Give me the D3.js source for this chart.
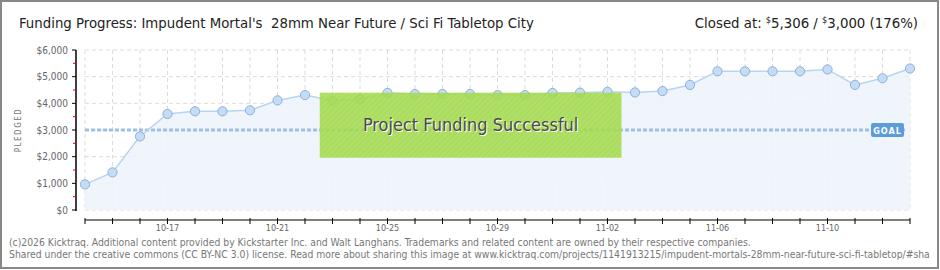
<!DOCTYPE html>
<html>
<head>
<meta charset="utf-8">
<script src="https://cdn.jsdelivr.net/npm/d3@7"></script>
<style>
  html, body { margin: 0; padding: 0; background: #fff; }
  svg { display: block; }
  text { white-space: pre; }
</style>
</head>
<body>
<svg id="chart" width="940" height="270"></svg>
<script>
// values
const dates = [
  '10-14', '10-15', '10-16', '10-17', '10-18', '10-19', '10-20', '10-21',
  '10-22', '10-23', '10-24', '10-25', '10-26', '10-27', '10-28', '10-29',
  '10-30', '10-31', '11-01', '11-02', '11-03', '11-04', '11-05', '11-06',
  '11-07', '11-08', '11-09', '11-10', '11-11', '11-12', '11-13'
];
const pledged = [
  960, 1410, 2760, 3600, 3700, 3700, 3740, 4110,
  4310, 4100, 4150, 4390, 4350, 4350, 4350, 4310,
  4310, 4390, 4400, 4430, 4410, 4460, 4690, 5200,
  5200, 5200, 5200, 5270, 4690, 4940, 5306
];
const tickLabels = ['10-17', '10-21', '10-25', '10-29', '11-02', '11-06', '11-10'];
const yTicks = [0, 1000, 2000, 3000, 4000, 5000, 6000];
const goal = 3000;

const FONT = '"DejaVu Sans Condensed", "DejaVu Sans", sans-serif';
const LINE_COLOR = '#b9d4f1';
const AREA_COLOR = '#eef4fc';
const POINT_FILL = '#c5dcf6';
const POINT_STROKE = '#8eb0d8';
const GRID_COLOR = '#dcdcdc';

const svg = d3.select('#chart');
const defs = svg.append('defs');

const hatch = defs.append('pattern')
  .attr('id', 'hatch')
  .attr('width', 4)
  .attr('height', 4)
  .attr('patternUnits', 'userSpaceOnUse')
  .attr('patternTransform', 'rotate(45)');
hatch.append('rect').attr('width', 4).attr('height', 4).attr('fill', '#a6dc50');
hatch.append('line')
  .attr('x1', 0).attr('y1', 0).attr('x2', 0).attr('y2', 4)
  .attr('stroke', '#9ad044').attr('stroke-width', 1.2);

// frame
svg.append('rect')
  .attr('x', 1).attr('y', 1)
  .attr('width', 937).attr('height', 267)
  .attr('fill', '#fff')
  .attr('stroke', '#888')
  .attr('stroke-width', 2);

const x = d3.scalePoint().domain(dates).range([85, 910]);
const y = d3.scaleLinear().domain([0, 6000]).range([210, 50]);

// grid
const grid = svg.append('g').attr('class', 'grid');
grid.selectAll('line.v')
  .data(dates)
  .join('line')
  .attr('class', 'v')
  .attr('x1', (d) => x(d)).attr('x2', (d) => x(d))
  .attr('y1', y(6000)).attr('y2', y(0))
  .attr('stroke', GRID_COLOR)
  .attr('stroke-dasharray', '4,3');
grid.selectAll('line.h')
  .data(yTicks)
  .join('line')
  .attr('class', 'h')
  .attr('x1', x(dates[0])).attr('x2', x(dates[dates.length - 1]))
  .attr('y1', (d) => y(d)).attr('y2', (d) => y(d))
  .attr('stroke', GRID_COLOR)
  .attr('stroke-dasharray', '4,3');

// area + line
const area = d3.area()
  .x((d, i) => x(dates[i]))
  .y0(y(0))
  .y1((d) => y(d));
const line = d3.line()
  .x((d, i) => x(dates[i]))
  .y((d) => y(d));

svg.append('path')
  .attr('d', area(pledged))
  .attr('fill', AREA_COLOR)
  .attr('fill-opacity', 0.9);

// goal line
svg.append('line')
  .attr('x1', x(dates[0])).attr('x2', x(dates[dates.length - 1]) - 4)
  .attr('y1', y(goal)).attr('y2', y(goal))
  .attr('stroke', '#9fbfe5')
  .attr('stroke-width', 3)
  .attr('stroke-dasharray', '4,2');

svg.append('path')
  .attr('d', line(pledged))
  .attr('fill', 'none')
  .attr('stroke', LINE_COLOR)
  .attr('stroke-width', 1.5);

svg.append('g')
  .selectAll('circle')
  .data(pledged)
  .join('circle')
  .attr('cx', (d, i) => x(dates[i]))
  .attr('cy', (d) => y(d))
  .attr('r', 4.6)
  .attr('fill', POINT_FILL)
  .attr('stroke', POINT_STROKE)
  .attr('stroke-width', 1);

// goal badge
const goalG = svg.append('g')
  .attr('transform', `translate(${x(dates[dates.length - 1]) - 39},${y(goal) - 7})`);
goalG.append('rect')
  .attr('width', 33).attr('height', 14)
  .attr('rx', 2)
  .attr('fill', '#5b9ddb');
goalG.append('text')
  .attr('x', 16.5).attr('y', 10.5)
  .attr('text-anchor', 'middle')
  .attr('fill', '#fff')
  .attr('font-family', FONT)
  .attr('font-size', '9px')
  .attr('font-weight', 'bold')
  .attr('letter-spacing', '1px')
  .text('GOAL');

// success banner
const bx0 = (x(dates[8]) + x(dates[9])) / 2 + 1;
const bx1 = x(dates[19]) + 14;
const by0 = y(4400);
const by1 = y(1960);
svg.append('rect')
  .attr('x', bx0).attr('y', by0)
  .attr('width', bx1 - bx0).attr('height', by1 - by0)
  .attr('fill', 'url(#hatch)')
  .attr('opacity', 0.88);
svg.append('text')
  .attr('x', (bx0 + bx1) / 2 + 1)
  .attr('y', (by0 + by1) / 2 + 7)
  .attr('text-anchor', 'middle')
  .attr('fill', '#fff')
  .attr('font-family', FONT)
  .attr('font-size', '18px')
  .text('Project Funding Successful');
svg.append('text')
  .attr('x', (bx0 + bx1) / 2)
  .attr('y', (by0 + by1) / 2 + 6)
  .attr('text-anchor', 'middle')
  .attr('fill', '#4a4a4a')
  .attr('font-family', FONT)
  .attr('font-size', '18px')
  .text('Project Funding Successful');

// y axis
const yAxisG = svg.append('g').attr('transform', 'translate(76,0)');
yAxisG.append('line')
  .attr('x1', 0).attr('x2', 0)
  .attr('y1', y(6000)).attr('y2', y(0) + 1)
  .attr('stroke', '#000').attr('stroke-width', 1.5);
yAxisG.selectAll('line.major')
  .data(yTicks)
  .join('line')
  .attr('class', 'major')
  .attr('x1', -4).attr('x2', 0)
  .attr('y1', (d) => y(d)).attr('y2', (d) => y(d))
  .attr('stroke', '#000');
yAxisG.selectAll('line.minor')
  .data(yTicks.slice(1))
  .join('line')
  .attr('class', 'minor')
  .attr('x1', -3).attr('x2', 0)
  .attr('y1', (d) => y(d - 500)).attr('y2', (d) => y(d - 500))
  .attr('stroke', '#e00');
yAxisG.selectAll('text')
  .data(yTicks)
  .join('text')
  .attr('x', -8)
  .attr('y', (d) => y(d) + 3.5)
  .attr('text-anchor', 'end')
  .attr('fill', '#666')
  .attr('font-family', FONT)
  .attr('font-size', '10px')
  .text((d) => d3.format('$,')(d));

svg.append('text')
  .attr('transform', `translate(21,${y(3000)}) rotate(-90)`)
  .attr('text-anchor', 'middle')
  .attr('fill', '#777')
  .attr('font-family', FONT)
  .attr('font-size', '8px')
  .attr('letter-spacing', '1.5px')
  .text('PLEDGED');

// x axis
const xAxisG = svg.append('g').attr('transform', 'translate(0,220)');
xAxisG.append('line')
  .attr('x1', x(dates[0])).attr('x2', x(dates[dates.length - 1]))
  .attr('stroke', '#000').attr('stroke-width', 1.2);
xAxisG.selectAll('line.tick')
  .data(dates)
  .join('line')
  .attr('class', 'tick')
  .attr('x1', (d) => x(d)).attr('x2', (d) => x(d))
  .attr('y1', -2).attr('y2', 4)
  .attr('stroke', '#000');
xAxisG.selectAll('text')
  .data(tickLabels)
  .join('text')
  .attr('x', (d) => x(d))
  .attr('y', 11)
  .attr('text-anchor', 'middle')
  .attr('fill', '#666')
  .attr('font-family', FONT)
  .attr('font-size', '9px')
  .text((d) => d);

// title
svg.append('text')
  .attr('x', 19).attr('y', 28)
  .attr('fill', '#222')
  .attr('font-family', FONT)
  .attr('font-size', '14.8px')
  .attr('xml:space', 'preserve')
  .text("Funding Progress: Impudent Mortal's  28mm Near Future / Sci Fi Tabletop City");

const closed = svg.append('text')
  .attr('x', 918).attr('y', 28)
  .attr('text-anchor', 'end')
  .attr('fill', '#222')
  .attr('font-family', FONT)
  .attr('font-size', '14.8px');
closed.append('tspan').text('Closed at: ');
closed.append('tspan').attr('font-size', '9px').attr('dy', -5).text('$');
closed.append('tspan').attr('dy', 5).text('5,306 / ');
closed.append('tspan').attr('font-size', '9px').attr('dy', -5).text('$');
closed.append('tspan').attr('dy', 5).text('3,000 (176%)');

// footer
const footer = [
  '(c)2026 Kicktraq. Additional content provided by Kickstarter Inc. and Walt Langhans. Trademarks and related content are owned by their respective companies.',
  'Shared under the creative commons (CC BY-NC 3.0) license. Read more about sharing this image at www.kicktraq.com/projects/1141913215/impudent-mortals-28mm-near-future-sci-fi-tabletop/#sha'
];
svg.selectAll('text.footer')
  .data(footer)
  .join('text')
  .attr('class', 'footer')
  .attr('x', 9)
  .attr('y', (d, i) => 246 + i * 12)
  .attr('fill', '#777')
  .attr('font-family', FONT)
  .attr('font-size', '10.3px')
  .text((d) => d);
</script>
</body>
</html>
